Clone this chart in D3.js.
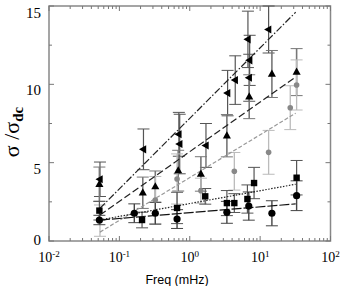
<!DOCTYPE html>
<html>
<head>
<meta charset="utf-8">
<script src="https://cdn.jsdelivr.net/npm/d3@7"></script>
<style>
body { margin: 0; background: #fff; }
svg { display: block; }
</style>
</head>
<body>
<svg id="chart" width="346" height="286"></svg>
<script>
// series: [freq (mHz), sigma/sigma_dc, error]
var triLeftFreq = [0.053, 0.22, 0.70, 0.72, 1.70, 3.45, 4.43, 6.71, 7.1, 7.0, 13.2];
var triLeftVal  = [3.94, 5.85, 6.81, 6.19, 6.1, 9.44, 10.27, 12.87, 11.53, 10.42, 13.5];
var triLeftErr  = [1.1, 1.3, 1.4, 1.9, 1.4, 1.45, 1.55, 1.8, 1.6, 1.5, 1.5];

var triUpFreq = [0.052, 0.215, 0.324, 0.685, 1.44, 3.37, 7.0, 14.7, 33];
var triUpVal  = [3.62, 3.08, 3.47, 4.49, 4.28, 6.72, 9.21, 10.66, 10.78];
var triUpErr  = [1.1, 1.0, 1.0, 1.3, 1.1, 1.35, 1.4, 1.5, 1.5];

var grayFreq = [0.053, 0.324, 0.66, 1.44, 4.3, 13.2, 26.8, 33];
var grayVal  = [1.3, 2.62, 3.96, 3.21, 4.45, 5.66, 8.51, 9.96];
var grayErr  = [1.0, 1.5, 1.6, 0.8, 1.2, 1.4, 1.4, 1.6];

var squareFreq = [0.052, 0.21, 0.66, 1.66, 3.37, 4.3, 6.6, 8.2, 33];
var squareVal  = [1.94, 1.34, 2.11, 2.85, 2.42, 2.42, 2.68, 3.7, 4.04];
var squareErr  = [0.6, 0.5, 1.0, 0.5, 0.8, 0.6, 0.9, 1.0, 1.1];

var circleFreq = [0.052, 0.163, 0.324, 0.66, 3.37, 6.9, 14.7, 33];
var circleVal  = [1.34, 1.77, 1.77, 1.4, 1.83, 2.23, 1.77, 2.89];
var circleErr  = [0.3, 0.6, 0.7, 0.6, 0.7, 0.9, 0.8, 0.95];

// fits: value = intercept + slope * log10(freq), over fitRange
var fitIntercept = [7.83, 5.70, 4.05, 2.39, 1.81];
var fitSlope     = [4.50, 3.17, 2.73, 0.82, 0.37];
var fitRange = [0.053, 32];

var xTicks = [0.01, 0.1, 1, 10, 100];
var xTickExp = ["-2", "-1", "0", "1", "2"];
var yTicks = [0, 5, 10, 15];

(function() {
var svg = d3.select("#chart");
var mLeft = 49, mRight = 330.5, mTop = 6, mBottom = 241;

var x = d3.scaleLog().domain([0.01, 100]).range([mLeft, mRight]);
var y = d3.scaleLinear().domain([0, 15]).range([mBottom, mTop]);

function zip(f, v, e) {
  return f.map(function(d, i) { return { f: d, v: v[i], e: e[i] }; });
}

var series = [
  { id: "triLeft", data: zip(triLeftFreq, triLeftVal, triLeftErr), bar: "#555", barW: 1.2, fill: "#000", dash: "7,2,1.5,2", lineColor: "#222" },
  { id: "triUp", data: zip(triUpFreq, triUpVal, triUpErr), bar: "#777", barW: 1.6, fill: "#000", dash: "7,3", lineColor: "#222" },
  { id: "gray", data: zip(grayFreq, grayVal, grayErr), bar: "#bbb", barW: 1.3, fill: "#888", dash: "4,2", lineColor: "#999" },
  { id: "square", data: zip(squareFreq, squareVal, squareErr), bar: "#555", barW: 1.2, fill: "#000", dash: "1.5,1.5", lineColor: "#222" },
  { id: "circle", data: zip(circleFreq, circleVal, circleErr), bar: "#444", barW: 1.4, fill: "#000", dash: "10,2", lineColor: "#111" }
];

// frame
svg.append("rect")
  .attr("x", mLeft).attr("y", mTop)
  .attr("width", mRight - mLeft).attr("height", mBottom - mTop)
  .attr("fill", "none").attr("stroke", "#888").attr("stroke-width", 1.5);

// ticks (inside)
var minor = [];
for (var p = -2; p < 2; p++) {
  for (var k = 2; k <= 9; k++) minor.push(k * Math.pow(10, p));
}
var ticksG = svg.append("g").attr("stroke", "#777").attr("stroke-width", 1);
minor.forEach(function(f) {
  ticksG.append("line").attr("x1", x(f)).attr("x2", x(f)).attr("y1", mBottom).attr("y2", mBottom - 3);
  ticksG.append("line").attr("x1", x(f)).attr("x2", x(f)).attr("y1", mTop).attr("y2", mTop + 3);
});
xTicks.forEach(function(f) {
  ticksG.append("line").attr("x1", x(f)).attr("x2", x(f)).attr("y1", mBottom).attr("y2", mBottom - 5);
  ticksG.append("line").attr("x1", x(f)).attr("x2", x(f)).attr("y1", mTop).attr("y2", mTop + 5);
});
d3.range(0, 15.1, 2.5).forEach(function(v) {
  var len = (v % 5 === 0) ? 5 : 3;
  ticksG.append("line").attr("x1", mLeft).attr("x2", mLeft + len).attr("y1", y(v)).attr("y2", y(v));
  ticksG.append("line").attr("x1", mRight).attr("x2", mRight - len).attr("y1", y(v)).attr("y2", y(v));
});

// x tick labels
var xl = svg.append("g");
xTicks.forEach(function(f, i) {
  var t = xl.append("text")
    .attr("x", x(f)).attr("y", 262)
    .attr("text-anchor", "middle")
    .style("font-family", "'Liberation Serif', 'DejaVu Serif', serif")
    .style("font-size", "14px");
  t.append("tspan").text("10");
  t.append("tspan").attr("dy", -5).style("font-size", "9px").text(xTickExp[i]);
});

// y tick labels
yTicks.forEach(function(v) {
  svg.append("text")
    .attr("x", 41).attr("y", y(v) + (v === 0 ? 4 : (v === 15 ? 12 : 11)))
    .attr("text-anchor", "end")
    .style("font-family", "'Liberation Serif', 'DejaVu Serif', serif")
    .style("font-size", "15px")
    .text(v);
});

// axis titles
svg.append("text")
  .attr("x", 177).attr("y", 284)
  .attr("text-anchor", "middle")
  .style("font-family", "'Liberation Sans', Arial, sans-serif")
  .style("font-size", "12.5px")
  .text("Freq (mHz)");

var yl = svg.append("text")
  .attr("transform", "translate(19,132) rotate(-90)")
  .attr("text-anchor", "middle")
  .style("font-family", "'Liberation Serif', 'DejaVu Serif', serif")
  .style("font-size", "22px");
yl.append("tspan").text("\u03c3 /\u03c3");
yl.append("tspan").attr("dy", 4).style("font-size", "15px").style("font-weight", "bold").text("dc");

// error bars
var cap = 6;
series.forEach(function(s) {
  var g = svg.append("g").attr("class", "err-" + s.id)
    .attr("stroke", s.bar).attr("stroke-width", s.barW).attr("fill", "none");
  s.data.forEach(function(d) {
    var cx = x(d.f), y0 = y(Math.min(15, d.v + d.e)), y1 = y(d.v - d.e);
    g.append("line").attr("x1", cx).attr("x2", cx).attr("y1", y0).attr("y2", y1);
    if (d.v + d.e <= 15) g.append("line").attr("x1", cx - cap).attr("x2", cx + cap).attr("y1", y0).attr("y2", y0).attr("stroke-width", 1);
    g.append("line").attr("x1", cx - cap).attr("x2", cx + cap).attr("y1", y1).attr("y2", y1).attr("stroke-width", 1);
  });
});

// fit lines
var line = d3.line().x(function(d) { return x(d[0]); }).y(function(d) { return y(d[1]); });
series.forEach(function(s, i) {
  var pts = fitRange.map(function(f) { return [f, fitIntercept[i] + fitSlope[i] * Math.log10(f)]; });
  svg.append("path")
    .attr("d", line(pts))
    .attr("fill", "none")
    .attr("stroke", s.lineColor)
    .attr("stroke-width", 1.2)
    .attr("stroke-dasharray", s.dash);
});

// markers
var sym = {
  triLeft: function(g, d) {
    var cx = x(d.f), cy = y(d.v), r = 4.5;
    g.append("path").attr("d", "M" + (cx - r) + "," + cy + "L" + (cx + r * 0.6) + "," + (cy - r * 0.9) + "L" + (cx + r * 0.6) + "," + (cy + r * 0.9) + "Z");
  },
  triUp: function(g, d) {
    var cx = x(d.f), cy = y(d.v), r = 4.5;
    g.append("path").attr("d", "M" + cx + "," + (cy - r) + "L" + (cx + r * 0.9) + "," + (cy + r * 0.6) + "L" + (cx - r * 0.9) + "," + (cy + r * 0.6) + "Z");
  },
  gray: function(g, d) {
    g.append("circle").attr("cx", x(d.f)).attr("cy", y(d.v)).attr("r", 2.8);
  },
  square: function(g, d) {
    g.append("rect").attr("x", x(d.f) - 3.2).attr("y", y(d.v) - 3.2).attr("width", 6.4).attr("height", 6.4);
  },
  circle: function(g, d) {
    g.append("circle").attr("cx", x(d.f)).attr("cy", y(d.v)).attr("r", 3.6);
  }
};
series.forEach(function(s) {
  var g = svg.append("g").attr("class", "pts-" + s.id).attr("fill", s.fill);
  s.data.forEach(function(d) { sym[s.id](g, d); });
});
})();
</script>
</body>
</html>
